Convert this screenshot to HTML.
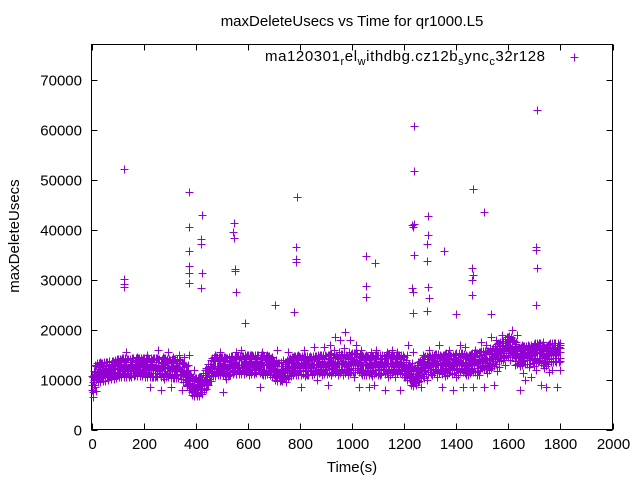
<!DOCTYPE html>
<html><head><meta charset="utf-8"><style>
body{margin:0;background:#fff}
svg{display:block;font-family:"Liberation Sans",sans-serif}
</style></head><body>
<svg id="c" width="640" height="480">
<rect width="640" height="480" fill="#fff"/>
<text x="352" y="26" font-size="15" text-anchor="middle">maxDeleteUsecs vs Time for qr1000.L5</text>
<text transform="translate(19,236) rotate(-90)" font-size="15" text-anchor="middle">maxDeleteUsecs</text>
<text x="352" y="472" font-size="15" text-anchor="middle">Time(s)</text>
<g id="legend">
<text x="265" y="61" font-size="15" textLength="280" lengthAdjust="spacing">ma120301<tspan font-size="11" dy="4">r</tspan><tspan dy="-4">el</tspan><tspan font-size="11" dy="4">w</tspan><tspan dy="-4">ithdbg.cz12b</tspan><tspan font-size="11" dy="4">s</tspan><tspan dy="-4">ync</tspan><tspan font-size="11" dy="4">c</tspan><tspan dy="-4">32r128</tspan></text>
<path d="M570.5 57.5h8M574.5 53.5v8" stroke="#9400d3" stroke-width="1"/>
</g>
<g id="axes"></g>
<g id="pts"></g>
</svg>
<script>
const binTimes=[0,20,40,60,80,100,120,140,160,180,200,220,240,260,280,300,320,340,360,380,400,420,440,460,480,500,520,540,560,580,600,620,640,660,680,700,720,740,760,780,800,820,840,860,880,900,920,940,960,980,1000,1020,1040,1060,1080,1100,1120,1140,1160,1180,1200,1220,1240,1260,1280,1300,1320,1340,1360,1380,1400,1420,1440,1460,1480,1500,1520,1540,1560,1580,1600,1620,1640,1660,1680,1700,1720,1740,1760,1780,1800];
const midVals=[9,11.5,11.5,11.8,12,12.3,12.5,12.3,12.5,12.6,12.5,12.4,12.5,12.3,12.5,12.2,12.3,12.2,11,9,8.5,8.7,10.5,12.5,12.8,12.8,12.5,13,13,13,13.2,13,13.2,13,13,12,11.5,11.8,12.5,13,12.8,13,12.8,13,13.2,13,13.5,13,13.3,13,13.5,13.5,13,12.8,13,13.2,13,13.3,13,13.2,12.8,11,10.5,12,13,13,13.3,13,13.5,13,13.5,13.5,13,13.5,13.5,14,14,14.5,15.5,16,17,16,14.5,15,15,15.5,15.5,14.5,15.5,15.5,15.5];
const lowVals=[6.5,10.5,10.8,11,11,11,11,11,11,11,10.5,8.5,10.8,8,11,8.5,11,8,9,7.5,7.5,7.5,9,11,11,7.5,11,11.5,11.5,11.5,11,11.5,8.5,11,11.5,10,10,9.5,11,11,8.5,11,11,10,11,9,11.5,11,11,11,10.5,8.5,11,8.5,9,11,8,11,10.5,8,11,9,9,8.5,10,11,10.5,8.5,11,8,11,8.5,11,8.5,11,8.5,12,9,12.5,13,14,13,8,10,10.5,12,9,8.5,12,8.5,12];
const highVals=[13,13.5,13,13,13.5,14,15.5,14,14.5,14,15,14,16,14.5,15.5,14.5,15,14.5,15,12,10.5,10,12.5,15,15.5,14.5,14.5,15.5,16,14.5,15,14.5,15.5,15,14.5,16,14,15.5,14.5,15,16,14.5,16.5,14.5,16.5,17,18.5,18,19.5,18,17,16,15,15.5,16,15,15.5,16,15.5,15,17,15.5,13.5,15,16,15,17,15,16,15,17,16.5,15,16,17.5,17,18.5,18,19,18.5,20,19,17,17,16.5,17,17.5,17,17,17,17];
const outT=[123,123,123,123,373,373,375,375,375,375,423,419,419,423,419,546,542,546,550,550,554,588,704,777,788,784,784,784,1054,1054,1054,1088,1238,1238,1238,1234,1238,1234,1231,1234,1231,1292,1292,1288,1288,1292,1296,1288,1354,1400,1465,1462,1465,1462,1462,1508,1535,1712,1708,1708,1712,1708];
const outV=[52200,30200,29200,28600,47600,40600,35800,32800,31400,29400,43000,38200,37200,31400,28400,41400,39600,38400,32200,31800,27600,21400,25000,23600,46600,36600,34200,33600,34800,28800,26600,33400,60800,51800,41200,40600,35000,27600,28400,23400,41000,42800,39000,37200,33800,28600,26400,23800,35800,23200,48200,32400,31000,30000,27000,43600,23200,64000,36600,36000,32400,25000];
const xTicks=[0,200,400,600,800,1000,1200,1400,1600,1800,2000];
const yTicks=[0,10000,20000,30000,40000,50000,60000,70000];

const L=91.5,R=612.5,T=44.5,B=429.5;
const xs=t=>L+(t/2000)*(R-L);
const ys=v=>B-(v/77000)*(B-T);
const NS='http://www.w3.org/2000/svg';
const ax=document.getElementById('axes'), pg=document.getElementById('pts');
function mk(tag,at,par){const e=document.createElementNS(NS,tag);for(const k in at)e.setAttribute(k,at[k]);par.appendChild(e);return e;}
const frame=mk('rect',{x:L,y:T,width:R-L,height:B-T,fill:'none',stroke:'#000','stroke-width':1},ax);


xTicks.forEach(t=>{const x=Math.round(xs(t))+0.5;
 mk('path',{d:`M${x} ${B}v-6M${x} ${T}v6`,stroke:'#000'},ax);
 const tx=mk('text',{x:x,y:449,'font-size':15,'text-anchor':'middle'},ax);tx.textContent=t;
 
 });
yTicks.forEach(v=>{const y=Math.round(ys(v))+0.5;
 mk('path',{d:`M${L} ${y}h6M${R} ${y}h-6`,stroke:'#000'},ax);
 const tx=mk('text',{x:82,y:y+5,'font-size':15,'text-anchor':'end'},ax);tx.textContent=v;
 
 });
let d='';
function plus(t,v){const x=Math.round(xs(t))+0.5,y=Math.round(ys(v))+0.5;d+=`M${x-4} ${y}h8M${x} ${y-4}v8`;}
binTimes.forEach((t,i)=>{
 const m=midVals[i]*1000,lo=lowVals[i]*1000,hi=highVals[i]*1000;
 const nt=i<binTimes.length-1?binTimes[i+1]:t;
 const nm=i<binTimes.length-1?midVals[i+1]*1000:m;
 const span=nt-t;
 [0,0.2,0.4,0.6,0.8].forEach((f,k)=>{
  if(span===0&&f>0)return;
  const base=m+(nm-m)*f, tt=t+span*f;
  plus(tt,base);
  plus(tt+span*0.1,base+(k%2?1100:-1100));
  plus(tt+span*0.05,base+(k%2?-1900:1800));
 });
 plus(t+span*0.3,lo);
 plus(t+span*0.7,hi);
 plus(t+span*0.5,(m+hi)/2);
 plus(t+span*0.9,(m+lo)/2);
});
outT.forEach((t,i)=>plus(t,outV[i]));
const p=mk('path',{d:d,stroke:'#9400d3','stroke-width':1,fill:'none'},pg);


</script>
</body></html>
